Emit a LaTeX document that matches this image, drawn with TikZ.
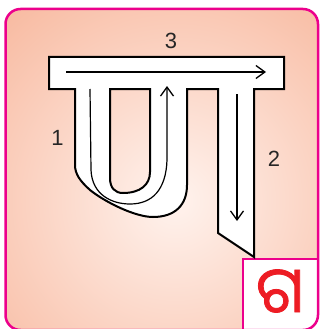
\documentclass[tikz,border=0pt]{standalone}
\usepackage{fontspec}
\setmainfont{Liberation Sans}
\newfontfamily\oriya[Script=Oriya,FakeBold=1.2]{Noto Sans Oriya UI}
\usetikzlibrary{arrows.meta}
\definecolor{frame}{HTML}{EC008C}
\definecolor{salmon}{HTML}{F8BBA2}
\definecolor{glow}{HTML}{FFF3EE}
\definecolor{oriyared}{HTML}{ED1C24}
\begin{document}
\begin{tikzpicture}[x=1pt,y=-1pt,
  outline/.style={draw=black,line width=2pt,fill=white,line join=miter},
  guide/.style={line width=1.2pt,-{Straight Barb[length=9pt,width=13pt,line width=1.3pt]}},
  num/.style={font=\fontsize{22}{22}\selectfont,text=black!85}]
\useasboundingbox (0,0) rectangle (320,329);
\begin{scope}
  \clip[rounded corners=15pt] (5.5,9) rectangle (318,330);
  \shade[inner color=glow,outer color=salmon] (175,200) circle (250pt);
  \fill[white] (243,259) rectangle (330,340);
  \draw[frame,line width=2.5pt] (243,259) rectangle (330,340);
\end{scope}
\draw[frame,line width=2.5pt,rounded corners=15pt] (5.5,9) rectangle (318,330);
% letter outline
\filldraw[outline,even odd rule]
  (49,57) -- (284,57) -- (284,89) -- (254,89) -- (254,257) -- (218,233) -- (218,89) -- (187,89)
  -- (187,185) .. controls (187,205) and (175,217) .. (153,217)
  .. controls (135,217) and (105,202) .. (90,190)
  .. controls (80,181) and (75,174) .. (75,165) -- (75,89) -- (49,89) -- cycle
  (110,89) -- (150,89) -- (150,172) .. controls (150,185) and (140,193) .. (123,193)
  .. controls (115,193) and (110,188) .. (110,178) -- cycle;
% stroke guides
\coordinate (s3a) at (66,72);
\coordinate (s3b) at (266,72);
\coordinate (s2a) at (237,94);
\coordinate (s2b) at (237,221);
\coordinate (s1a) at (90,89);
\coordinate (s1b) at (167,86);
\draw[guide] (s3a) -- (s3b);
\draw[guide] (s2a) -- (s2b);
\draw[guide] (s1a) -- (91,170) .. controls (92,195) and (112,204) .. (130,204)
  .. controls (152,204) and (166,190) .. (167,160) -- (s1b);
% labels
\node[num] (lab3) at (171,41) {3};
\node[num] (lab1) at (57.5,138) {1};
\node[num] (lab2) at (274,158.5) {2};
\node[font=\oriya\fontsize{64}{64}\selectfont,text=oriyared,inner sep=0pt,
      text height=48pt,text depth=2pt,anchor=base] (ga) at (280,318) {ଗ};
\end{tikzpicture}
\end{document}
